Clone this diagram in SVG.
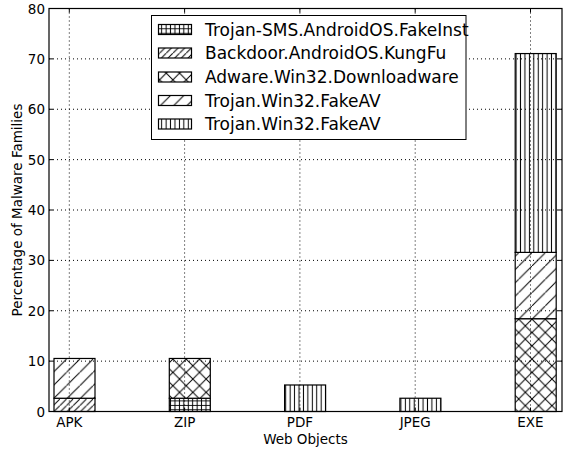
<svg xmlns="http://www.w3.org/2000/svg" width="564" height="450" viewBox="0 0 564 450">
<style>
text{font-family:"DejaVu Sans","Liberation Sans",sans-serif;fill:#000}
.tk{font-size:13.5px}
.lg{font-size:17px}
.grid{stroke:#000;stroke-width:1;stroke-dasharray:1,3;fill:none}
.bar{stroke:#000;stroke-width:1.2}
.tick{stroke:#000;stroke-width:1}
</style>
<defs>
<pattern id="hs" patternUnits="userSpaceOnUse" width="13.3" height="13.3">
<rect width="13.3" height="13.3" fill="#fff"/>
<path d="M-1,14.3 L14.3,-1" stroke="#000" stroke-width="1"/>
</pattern>
<pattern id="hd" patternUnits="userSpaceOnUse" width="6.65" height="6.65">
<rect width="6.65" height="6.65" fill="#fff"/>
<path d="M-1,7.65 L7.65,-1" stroke="#000" stroke-width="1"/>
</pattern>
<pattern id="hx" patternUnits="userSpaceOnUse" width="13.3" height="13.3">
<rect width="13.3" height="13.3" fill="#fff"/>
<path d="M-1,14.3 L14.3,-1 M-1,-1 L14.3,14.3" stroke="#000" stroke-width="1"/>
</pattern>
<pattern id="hv" patternUnits="userSpaceOnUse" width="4.43" height="4.43">
<rect width="4.43" height="4.43" fill="#fff"/>
<path d="M2.2,-1 L2.2,5.43" stroke="#000" stroke-width="1"/>
</pattern>
<pattern id="hp" patternUnits="userSpaceOnUse" width="4.43" height="4.43">
<rect width="4.43" height="4.43" fill="#fff"/>
<path d="M2.2,-1 L2.2,5.43 M-1,2.2 L5.43,2.2" stroke="#000" stroke-width="1"/>
</pattern>
</defs>
<rect width="564" height="450" fill="#fff"/>
<g id="bars">
<g id="bar-apk">
<rect class="bar" x="54" y="398.24" width="41" height="13.26" fill="url(#hd)"/>
<rect class="bar" x="54" y="358.47" width="41" height="39.77" fill="url(#hs)"/>
</g>
<g id="bar-zip">
<rect class="bar" x="169.3" y="398.24" width="41" height="13.26" fill="url(#hp)"/>
<rect class="bar" x="169.3" y="358.47" width="41" height="39.77" fill="url(#hx)"/>
</g>
<g id="bar-pdf">
<rect class="bar" x="284.6" y="384.99" width="41" height="26.51" fill="url(#hv)"/>
</g>
<g id="bar-jpeg">
<rect class="bar" x="399.9" y="398.24" width="41" height="13.26" fill="url(#hv)"/>
</g>
<g id="bar-exe">
<rect class="bar" x="515.2" y="318.7" width="41" height="92.8" fill="url(#hx)"/>
<rect class="bar" x="515.2" y="252.4" width="41" height="66.3" fill="url(#hs)"/>
<rect class="bar" x="515.2" y="53.56" width="41" height="198.84" fill="url(#hv)"/>
</g>
</g>
<g id="grid">
<path class="grid" d="M49,361.125H562M49,310.75H562M49,260.375H562M49,210H562M49,159.625H562M49,109.25H562M49,58.875H562"/>
<path class="grid" d="M69.3,8.5V411.5M184.6,8.5V411.5M299.9,8.5V411.5M415.2,8.5V411.5M530.5,8.5V411.5"/>
</g>
<g id="axes">
<rect x="49" y="8.5" width="513" height="403" fill="none" stroke="#000" stroke-width="1.2"/>
<path class="tick" d="M49,361.125h4M49,310.75h4M49,260.375h4M49,210h4M49,159.625h4M49,109.25h4M49,58.875h4M562,361.125h-4M562,310.75h-4M562,260.375h-4M562,210h-4M562,159.625h-4M562,109.25h-4M562,58.875h-4M69.3,411.5v-4M184.6,411.5v-4M299.9,411.5v-4M415.2,411.5v-4M530.5,411.5v-4M69.3,8.5v4M184.6,8.5v4M299.9,8.5v4M415.2,8.5v4M530.5,8.5v4"/>
<g class="tk" text-anchor="end">
<text x="45" y="416.5">0</text>
<text x="45" y="366.1">10</text>
<text x="45" y="315.75">20</text>
<text x="45" y="265.4">30</text>
<text x="45" y="215">40</text>
<text x="45" y="164.6">50</text>
<text x="45" y="114.25">60</text>
<text x="45" y="63.9">70</text>
<text x="45" y="13.5">80</text>
</g>
<g class="tk" text-anchor="middle">
<text x="69.3" y="427">APK</text>
<text x="184.6" y="427">ZIP</text>
<text x="299.9" y="427">PDF</text>
<text x="415.2" y="427">JPEG</text>
<text x="530.5" y="427">EXE</text>
<text x="305.5" y="444">Web Objects</text>
<text transform="translate(22,210) rotate(-90)">Percentage of Malware Families</text>
</g>
</g>
<g id="legend">
<rect x="151.5" y="15.5" width="314.5" height="124" fill="#fff" stroke="#000" stroke-width="1"/>
<rect class="bar" x="158.5" y="24.5" width="33" height="10" fill="url(#hp)"/>
<rect class="bar" x="158.5" y="48" width="33" height="10" fill="url(#hd)"/>
<rect class="bar" x="158.5" y="72" width="33" height="10" fill="url(#hx)"/>
<rect class="bar" x="158.5" y="95.5" width="33" height="10" fill="url(#hs)"/>
<rect class="bar" x="158.5" y="119" width="33" height="10" fill="url(#hv)"/>
<g class="lg">
<text x="205" y="35.5">Trojan-SMS.AndroidOS.FakeInst</text>
<text x="205" y="59">Backdoor.AndroidOS.KungFu</text>
<text x="205" y="83">Adware.Win32.Downloadware</text>
<text x="205" y="106.5">Trojan.Win32.FakeAV</text>
<text x="205" y="130">Trojan.Win32.FakeAV</text>
</g>
</g>
</svg>
